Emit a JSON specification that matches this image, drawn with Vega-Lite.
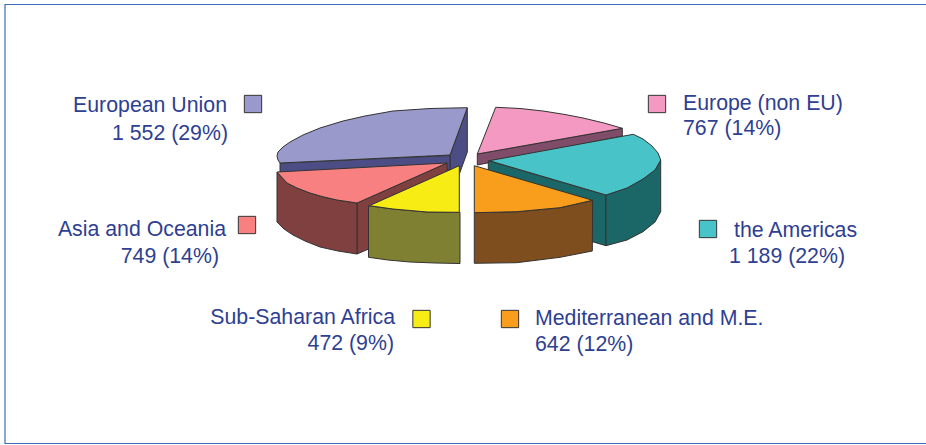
{"$schema":"https://vega.github.io/schema/vega-lite/v6.json","width":926,"height":445,"padding":0,"autosize":{"type":"none"},"background":"white","view":{"stroke":null},"config":{"view":{"stroke":null}},"resolve":{"scale":{"fill":"independent"}},
"datasets":{"faces":[
{"f":"frame","i":0,"x":926,"y":4.5},{"f":"frame","i":1,"x":5,"y":4.5},{"f":"frame","i":2,"x":5,"y":443.5},{"f":"frame","i":3,"x":926,"y":443.5}],
"poly":[
{"f":"a01 pink side","i":0,"x":477.3,"y":154},{"f":"a01 pink side","i":1,"x":622.3,"y":128.3},{"f":"a01 pink side","i":2,"x":622.3,"y":136},{"f":"a01 pink side","i":3,"x":477.3,"y":165},{"f":"a01 pink side","i":4,"x":477.3,"y":154},
{"f":"a02 pink top","i":0,"x":495.7,"y":107.3},{"f":"a02 pink top","i":1,"x":520,"y":108.5},{"f":"a02 pink top","i":2,"x":543,"y":111},{"f":"a02 pink top","i":3,"x":565,"y":114.5},{"f":"a02 pink top","i":4,"x":583,"y":118},{"f":"a02 pink top","i":5,"x":604,"y":123},{"f":"a02 pink top","i":6,"x":622.3,"y":128.3},{"f":"a02 pink top","i":7,"x":477.3,"y":154},{"f":"a02 pink top","i":8,"x":495.7,"y":107.3},
{"f":"a03 eu right","i":0,"x":467.3,"y":108},{"f":"a03 eu right","i":1,"x":467.3,"y":152},{"f":"a03 eu right","i":2,"x":450,"y":200},{"f":"a03 eu right","i":3,"x":450,"y":155},{"f":"a03 eu right","i":4,"x":467.3,"y":108},
{"f":"a04 eu front","i":0,"x":280,"y":163},{"f":"a04 eu front","i":1,"x":450,"y":155.5},{"f":"a04 eu front","i":2,"x":450,"y":170},{"f":"a04 eu front","i":3,"x":280,"y":178},{"f":"a04 eu front","i":4,"x":280,"y":163},
{"f":"a05 eu top","i":0,"x":467.3,"y":107.7},{"f":"a05 eu top","i":1,"x":430,"y":108.5},{"f":"a05 eu top","i":2,"x":393,"y":111},{"f":"a05 eu top","i":3,"x":365,"y":116},{"f":"a05 eu top","i":4,"x":343,"y":121},{"f":"a05 eu top","i":5,"x":320,"y":128},{"f":"a05 eu top","i":6,"x":303,"y":135},{"f":"a05 eu top","i":7,"x":290,"y":142},{"f":"a05 eu top","i":8,"x":283,"y":147},{"f":"a05 eu top","i":9,"x":278,"y":152},{"f":"a05 eu top","i":10,"x":277,"y":156},{"f":"a05 eu top","i":11,"x":278,"y":160},{"f":"a05 eu top","i":12,"x":280,"y":163},{"f":"a05 eu top","i":13,"x":450,"y":155},{"f":"a05 eu top","i":14,"x":467.3,"y":107.7},
{"f":"a06 asia inner","i":0,"x":357,"y":203},{"f":"a06 asia inner","i":1,"x":447,"y":163},{"f":"a06 asia inner","i":2,"x":448,"y":215},{"f":"a06 asia inner","i":3,"x":357,"y":254},{"f":"a06 asia inner","i":4,"x":357,"y":203},
{"f":"a07 asia outer","i":0,"x":277,"y":172},{"f":"a07 asia outer","i":1,"x":277,"y":222},{"f":"a07 asia outer","i":2,"x":284,"y":229},{"f":"a07 asia outer","i":3,"x":293,"y":235},{"f":"a07 asia outer","i":4,"x":305,"y":241},{"f":"a07 asia outer","i":5,"x":320,"y":247},{"f":"a07 asia outer","i":6,"x":338,"y":251},{"f":"a07 asia outer","i":7,"x":357,"y":254},{"f":"a07 asia outer","i":8,"x":357,"y":203},{"f":"a07 asia outer","i":9,"x":337,"y":200},{"f":"a07 asia outer","i":10,"x":322,"y":196.5},{"f":"a07 asia outer","i":11,"x":310,"y":193},{"f":"a07 asia outer","i":12,"x":297,"y":188},{"f":"a07 asia outer","i":13,"x":287,"y":183},{"f":"a07 asia outer","i":14,"x":277,"y":172},
{"f":"a08 asia top","i":0,"x":277,"y":172},{"f":"a08 asia top","i":1,"x":287,"y":183},{"f":"a08 asia top","i":2,"x":297,"y":188},{"f":"a08 asia top","i":3,"x":310,"y":193},{"f":"a08 asia top","i":4,"x":322,"y":196.5},{"f":"a08 asia top","i":5,"x":337,"y":200},{"f":"a08 asia top","i":6,"x":357,"y":203},{"f":"a08 asia top","i":7,"x":447,"y":163},{"f":"a08 asia top","i":8,"x":277,"y":172},
{"f":"a09 yellow side","i":0,"x":368.5,"y":205.7},{"f":"a09 yellow side","i":1,"x":368.5,"y":257.3},{"f":"a09 yellow side","i":2,"x":388,"y":260},{"f":"a09 yellow side","i":3,"x":410,"y":262},{"f":"a09 yellow side","i":4,"x":435,"y":263},{"f":"a09 yellow side","i":5,"x":460,"y":263.5},{"f":"a09 yellow side","i":6,"x":460,"y":212.3},{"f":"a09 yellow side","i":7,"x":427,"y":212},{"f":"a09 yellow side","i":8,"x":393,"y":209},{"f":"a09 yellow side","i":9,"x":368.5,"y":205.7},
{"f":"a10 yellow top","i":0,"x":459.3,"y":165.7},{"f":"a10 yellow top","i":1,"x":369.3,"y":205.7},{"f":"a10 yellow top","i":2,"x":393,"y":209},{"f":"a10 yellow top","i":3,"x":427,"y":212},{"f":"a10 yellow top","i":4,"x":459.3,"y":212.3},{"f":"a10 yellow top","i":5,"x":459.3,"y":165.7},
{"f":"a11 teal inner","i":0,"x":488.3,"y":160.7},{"f":"a11 teal inner","i":1,"x":606,"y":195},{"f":"a11 teal inner","i":2,"x":606,"y":245.7},{"f":"a11 teal inner","i":3,"x":488.3,"y":211},{"f":"a11 teal inner","i":4,"x":488.3,"y":160.7},
{"f":"a12 teal outer","i":0,"x":660.7,"y":160},{"f":"a12 teal outer","i":1,"x":660.7,"y":211.7},{"f":"a12 teal outer","i":2,"x":655,"y":222},{"f":"a12 teal outer","i":3,"x":643,"y":231.7},{"f":"a12 teal outer","i":4,"x":627,"y":240},{"f":"a12 teal outer","i":5,"x":606,"y":245.7},{"f":"a12 teal outer","i":6,"x":606,"y":195},{"f":"a12 teal outer","i":7,"x":627,"y":188},{"f":"a12 teal outer","i":8,"x":643,"y":179},{"f":"a12 teal outer","i":9,"x":655,"y":170},{"f":"a12 teal outer","i":10,"x":660.7,"y":160},
{"f":"a13 teal top","i":0,"x":489.3,"y":160.7},{"f":"a13 teal top","i":1,"x":633.3,"y":134.3},{"f":"a13 teal top","i":2,"x":643,"y":139},{"f":"a13 teal top","i":3,"x":652,"y":146},{"f":"a13 teal top","i":4,"x":658,"y":153},{"f":"a13 teal top","i":5,"x":660.7,"y":160},{"f":"a13 teal top","i":6,"x":655,"y":170},{"f":"a13 teal top","i":7,"x":643,"y":179},{"f":"a13 teal top","i":8,"x":627,"y":188},{"f":"a13 teal top","i":9,"x":606,"y":195},{"f":"a13 teal top","i":10,"x":489.3,"y":160.7},
{"f":"a14 orange side","i":0,"x":474.3,"y":212.7},{"f":"a14 orange side","i":1,"x":474.3,"y":263.3},{"f":"a14 orange side","i":2,"x":516.7,"y":262.7},{"f":"a14 orange side","i":3,"x":560,"y":257.3},{"f":"a14 orange side","i":4,"x":592.3,"y":251},{"f":"a14 orange side","i":5,"x":592.7,"y":200.3},{"f":"a14 orange side","i":6,"x":560,"y":207.7},{"f":"a14 orange side","i":7,"x":516.7,"y":211.7},{"f":"a14 orange side","i":8,"x":474.3,"y":212.7},
{"f":"a15 orange top","i":0,"x":474.3,"y":165.7},{"f":"a15 orange top","i":1,"x":592.7,"y":200.3},{"f":"a15 orange top","i":2,"x":560,"y":207.7},{"f":"a15 orange top","i":3,"x":516.7,"y":211.7},{"f":"a15 orange top","i":4,"x":474.3,"y":212.7},{"f":"a15 orange top","i":5,"x":474.3,"y":165.7}
]},
"layer":[
{"data":{"name":"faces"},"mark":{"type":"line","stroke":"#3A6DB8","strokeWidth":1.2,"clip":false},"encoding":{"x":{"field":"x","type":"quantitative","scale":{"domain":[0,926]},"axis":null},"y":{"field":"y","type":"quantitative","scale":{"domain":[445,0]},"axis":null},"order":{"field":"i"}}},
{"data":{"name":"poly"},"mark":{"type":"line","stroke":"#333333","strokeWidth":1,"strokeJoin":"round"},"encoding":{"x":{"field":"x","type":"quantitative","scale":{"domain":[0,926]},"axis":null},"y":{"field":"y","type":"quantitative","scale":{"domain":[445,0]},"axis":null},"order":{"field":"i"},"detail":{"field":"f"},"fill":{"field":"f","type":"nominal","legend":null,"scale":{"domain":["a01 pink side","a02 pink top","a03 eu right","a04 eu front","a05 eu top","a06 asia inner","a07 asia outer","a08 asia top","a09 yellow side","a10 yellow top","a11 teal inner","a12 teal outer","a13 teal top","a14 orange side","a15 orange top"],"range":["#7F4D6A","#F49AC2","#4D4D85","#4D4D85","#9999CC","#804040","#804040","#F98080","#808033","#F7EC13","#1B6666","#1B6666","#48C4C8","#7F4E1E","#F99D1C"]}}}},
{"data":{"values":[{"k":"European Union","x":253,"y":104},{"k":"Europe (non EU)","x":657,"y":104},{"k":"the Americas","x":708,"y":229},{"k":"Asia and Oceania","x":247,"y":225},{"k":"Sub-Saharan Africa","x":421.5,"y":319},{"k":"Mediterranean and M.E.","x":510,"y":319}]},"mark":{"type":"point","shape":"square","filled":true,"size":300,"stroke":"#333333","strokeWidth":1,"opacity":1},"encoding":{"x":{"field":"x","type":"quantitative","scale":{"domain":[0,926]},"axis":null},"y":{"field":"y","type":"quantitative","scale":{"domain":[445,0]},"axis":null},"fill":{"field":"k","type":"nominal","legend":null,"scale":{"domain":["European Union","Europe (non EU)","the Americas","Asia and Oceania","Sub-Saharan Africa","Mediterranean and M.E."],"range":["#9999CC","#F49AC2","#48C4C8","#F98080","#F7EC13","#F99D1C"]}}}},
{"data":{"values":[{"t":"European Union","x":227,"y":112},{"t":"1 552 (29%)","x":228,"y":140},{"t":"Asia and Oceania","x":226,"y":236},{"t":"749 (14%)","x":219,"y":263},{"t":"Sub-Saharan Africa","x":395,"y":324},{"t":"472 (9%)","x":394,"y":350},{"t":"1 189 (22%)","x":845,"y":263}]},"mark":{"type":"text","align":"right","baseline":"alphabetic","font":"Liberation Sans","fontSize":21.3,"fill":"#2E4092"},"encoding":{"x":{"field":"x","type":"quantitative","scale":{"domain":[0,926]},"axis":null},"y":{"field":"y","type":"quantitative","scale":{"domain":[445,0]},"axis":null},"text":{"field":"t"}}},
{"data":{"values":[{"t":"Europe (non EU)","x":683,"y":110},{"t":"767 (14%)","x":683,"y":135},{"t":"the Americas","x":734,"y":237},{"t":"Mediterranean and M.E.","x":535,"y":325},{"t":"642 (12%)","x":535,"y":351}]},"mark":{"type":"text","align":"left","baseline":"alphabetic","font":"Liberation Sans","fontSize":21.3,"fill":"#2E4092"},"encoding":{"x":{"field":"x","type":"quantitative","scale":{"domain":[0,926]},"axis":null},"y":{"field":"y","type":"quantitative","scale":{"domain":[445,0]},"axis":null},"text":{"field":"t"}}}
]}
